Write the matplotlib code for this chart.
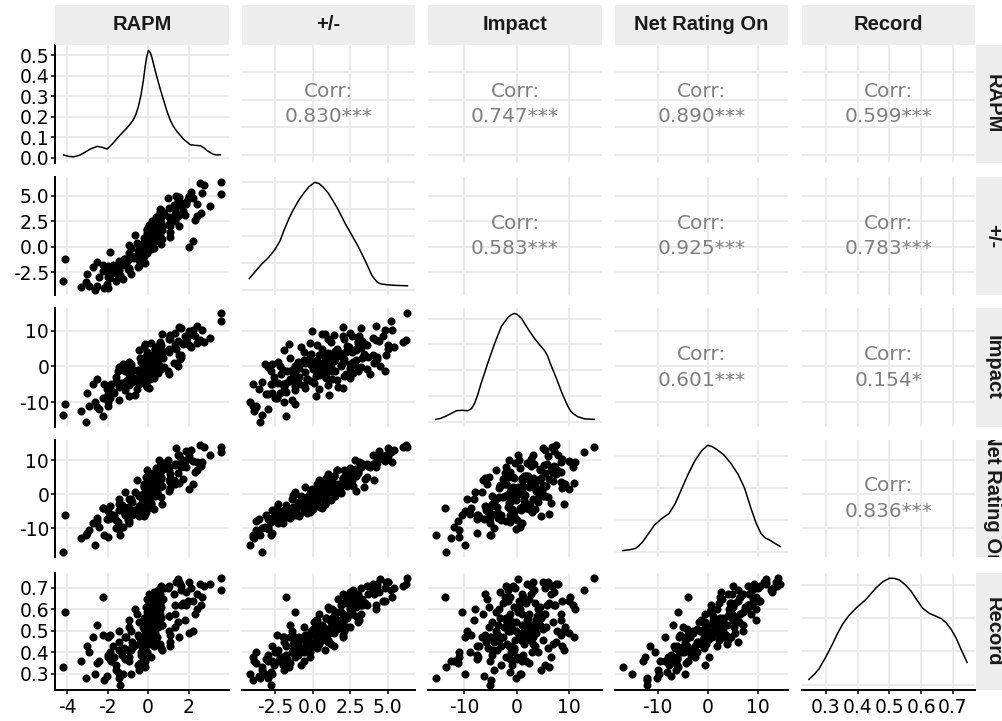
import matplotlib
matplotlib.use('Agg')
import matplotlib.pyplot as plt
from matplotlib.ticker import MultipleLocator, FormatStrFormatter

# variables (one point per player)
names = ['RAPM', '+/-', 'Impact', 'Net Rating On', 'Record']

rapm = [
    0.22, -0.80, 0.50, -1.11, 0.52, -0.96, 0.20, 1.70, -0.19, 0.02,
    -1.88, -0.10, 1.62, 0.12, 1.80, -1.45, 0.22, -1.48, 0.61, 0.62,
    -0.11, 1.04, -0.18, 0.71, -1.12, 0.57, -0.12, 2.67, -1.27, 0.04,
    2.03, -0.47, 0.44, -1.89, -0.18, 0.02, 1.34, 0.30, -0.83, -0.51,
    0.71, -0.94, 1.89, -0.20, -0.54, 0.16, -0.07, 0.30, -2.51, 0.58,
    0.18, 1.02, -0.79, -0.15, 0.78, 1.51, -0.95, -0.24, 1.64, 0.03,
    -0.19, 1.98, -0.12, -2.01, 0.39, -0.06, 0.48, -1.44, 0.38, -0.96,
    0.42, -0.19, 1.27, 1.07, -1.60, 0.13, 0.44, -0.44, -0.37, 1.89,
    -1.44, 0.02, 0.48, 2.43, -0.82, 0.37, -2.00, -0.52, 1.35, -0.27,
    0.36, -1.72, 0.65, 0.03, 0.05, -0.03, 0.32, -1.13, 0.64, -0.13,
    1.52, -0.63, 0.72, -0.45, 1.46, 0.17, 0.49, -0.38, -2.00, 0.36,
    0.21, -0.07, -0.86, 2.12, -0.09, -1.26, 0.59, -0.70, 0.60, -1.82,
    0.05, 2.20, -1.59, 0.28, -0.13, 0.16, -0.22, 1.58, -0.35, 1.08,
    0.07, 0.09, -1.70, 0.69, 0.35, 0.01, -0.47, -0.17, -0.23, 0.40,
    0.04, 0.35, -1.01, 0.24, 1.08, -0.02, -1.43, 0.64, -0.99, 0.34,
    -0.11, 1.34, -1.18, 1.46, 0.14, 0.26, -0.36, 1.05, -0.31, 0.40,
    -2.19, 0.26, 1.01, 0.02, 3.60, 3.58, 2.55, 2.75, 3.05, 2.20,
    2.00, -4.10, -4.20, -3.07, -2.20, -1.40, -2.60, 1.60, 1.00, -2.00,
    -3.00, -2.90, -2.70, -2.50, -2.40, -3.30, -2.20, 2.40, 2.30, 2.60,
    -1.90, 1.40,
]

plus_minus = [
    1.4, -0.9, 2.3, -1.5, 2.8, -2.3, 1.0, 3.5, 0.3, 0.9,
    -3.1, -0.2, 4.0, 1.9, 3.1, -1.4, 1.4, -2.8, 1.2, 3.6,
    1.0, 2.9, -0.5, 0.8, -1.2, 2.6, 0.7, 5.3, -1.8, 0.3,
    5.0, -1.3, 2.7, -2.5, -0.8, 1.2, 3.2, 2.5, -2.7, -0.4,
    1.6, -2.1, 4.2, -0.9, 0.4, 0.8, 1.3, -0.1, -3.8, 3.4,
    1.5, 2.1, -1.0, -0.6, 3.2, 2.0, -0.6, -1.2, 4.3, 2.1,
    -0.2, 4.7, 0.5, -3.6, 1.8, 1.6, 1.5, -3.0, 2.5, 0.2,
    0.9, 0.0, 4.1, 1.0, -2.6, 1.4, 1.9, -1.9, -0.4, 4.4,
    -2.3, 0.6, 3.0, 4.2, -1.1, 2.1, -1.9, -2.0, 3.6, 0.4,
    2.0, -1.8, 0.3, 0.9, 0.2, 1.7, 1.6, -1.7, 2.3, -0.2,
    4.9, 1.1, 3.3, -0.9, 3.0, 1.2, 2.7, -1.5, -3.0, 1.0,
    2.5, -0.6, -0.1, 5.4, 0.3, -3.2, 2.4, -1.1, 3.7, -2.7,
    0.6, 4.8, -3.4, 1.7, 0.0, -0.2, 0.9, 4.3, -1.4, 2.0,
    1.3, 1.1, -2.2, 1.9, 2.5, 0.4, 0.1, -1.6, 0.2, 2.9,
    2.0, 0.6, -1.3, 1.3, 1.4, 0.9, -1.9, 2.9, -2.2, 1.1,
    0.4, 2.5, -1.2, 4.5, 0.9, 2.2, -1.0, 2.2, -0.5, 2.0,
    -4.0, 1.5, 3.8, 0.8, 6.30, 5.20, 6.25, 6.00, 4.00, 0.60,
    -0.05, -1.20, -3.40, -3.50, -1.80, -2.80, -4.20, 3.20, 4.80, -4.00,
    -2.7, -3.8, -2.0, -1.5, -3.0, -3.9, -2.4, 3.0, 2.6, 3.3,
    -0.5, 5.0,
]

impact = [
    2.1, -3.0, 5.6, -4.2, 0.4, 1.1, 2.5, 6.2, -2.1, -1.0,
    -7.6, 3.0, 3.3, 0.2, 8.4, -9.5, 1.5, -1.2, 6.9, -0.6,
    -5.3, 4.8, 0.9, 9.0, -6.6, 4.1, -2.4, 10.2, -4.6, 1.9,
    6.0, -1.8, 1.3, -8.9, 5.5, -0.1, 5.2, -3.1, 0.8, -3.6,
    4.4, -2.0, 7.3, -0.5, -6.4, 2.6, -1.4, 3.6, -11.2, 3.5,
    -1.2, 7.7, -4.4, 1.8, -0.3, 11.0, -5.3, 0.1, 2.7, -2.6,
    1.5, 8.6, -1.7, -6.2, 3.7, -3.9, 4.3, -0.2, 0.6, -8.2,
    3.2, -0.8, 1.0, 7.6, -3.0, 1.8, 0.4, 4.6, -3.4, 7.1,
    -4.6, 0.7, -1.3, 11.2, -0.4, 2.0, -9.8, -0.9, 5.9, -2.3,
    2.3, -7.2, 6.0, -2.1, 1.4, -5.7, 5.0, -1.3, 4.6, 0.8,
    3.2, -7.9, 2.4, -4.8, 7.0, -0.6, -1.7, 2.4, -7.6, 3.8,
    -0.5, 4.0, -4.0, 5.5, -0.3, 0.6, 5.4, -1.0, 2.7, -5.0,
    1.0, 10.1, -4.3, 3.4, -0.2, 6.5, -3.2, 2.0, -1.1, 8.5,
    -3.4, 0.2, -7.3, 2.9, -1.6, 3.1, -4.7, 6.2, -2.6, 1.8,
    -6.1, 5.0, -3.8, 2.5, 8.7, -1.3, -5.8, 4.5, 0.0, 3.5,
    -1.0, 9.3, -5.5, 0.2, 1.6, -2.2, 1.2, 3.9, -1.5, 1.1,
    -4.8, 2.4, -2.0, 1.4, 14.8, 12.8, 7.5, 6.8, 8.0, 9.0,
    10.0, -10.5, -13.5, -15.4, -13.7, -5.0, -9.8, 10.8, -1.4, -11.0,
    -7.5, -11.0, -5.0, -3.6, -12.0, -12.5, -8.7, 6.5, 8.5, 7.2,
    -6.0, 5.0,
]

net_rating_on = [
    5.4, -6.2, 2.5, -5.7, 10.2, -8.6, 4.0, 4.6, 3.1, -2.1,
    -6.2, -5.1, 8.8, 0.4, 9.6, -1.5, 5.4, -8.1, 3.9, 5.0,
    5.0, 1.0, 2.2, -3.0, 0.8, 4.3, 3.0, 9.6, -3.1, -2.9,
    11.2, -0.3, 2.5, -5.7, -0.6, -1.7, 8.6, 2.6, -4.5, -5.5,
    7.0, -8.0, 8.1, -6.5, 4.3, -2.9, 5.2, -4.2, -7.9, 2.2,
    -0.6, 7.1, -2.2, -4.0, 9.3, 3.2, -5.0, 0.2, 10.4, 4.5,
    -1.7, 10.3, -3.7, -7.4, 1.1, 7.1, -0.2, -10.2, 7.8, -1.3,
    4.7, -4.2, 4.1, 6.0, -7.7, 5.3, 0.7, -6.4, -0.9, 12.8,
    -2.8, -4.0, 6.5, 9.6, -5.1, 5.0, -4.8, -6.2, 8.8, -0.6,
    4.5, -6.7, -0.8, 3.0, -0.5, 2.9, 2.8, -6.1, 4.9, 0.4,
    11.6, 0.6, 8.9, -3.6, 6.3, 2.2, 6.0, -4.4, -7.3, 1.8,
    4.7, -2.2, -1.3, 13.0, 0.0, -9.7, 6.4, -4.7, 8.2, -7.1,
    1.2, 9.8, -10.0, 2.1, -0.8, -2.6, 2.4, 9.1, -4.7, 3.7,
    1.9, 2.1, -6.2, 2.5, 6.1, -1.3, -0.5, -5.9, -0.8, 5.4,
    4.9, -0.4, -3.7, 3.9, 1.9, 0.8, -4.6, 7.4, -7.7, 2.1,
    1.6, 3.0, -5.2, 11.5, -0.2, 6.4, -3.4, 4.1, -2.5, 4.8,
    -12.0, 2.1, 8.1, -0.6, 14.0, 12.5, 14.4, 13.8, 11.5, 3.0,
    1.5, -6.0, -16.9, -12.0, -4.0, -12.0, -15.0, 8.0, 10.0, -12.5,
    -11.5, -10.6, -8.5, -7.0, -9.5, -12.9, -4.0, 7.0, 6.5, 8.4,
    -3.5, 13.5,
]

record = [
    .56, .43, .52, .47, .64, .36, .46, .63, .55, .51,
    .37, .40, .69, .59, .55, .50, .49, .31, .44, .71,
    .61, .57, .46, .41, .47, .60, .52, .66, .39, .49,
    .73, .44, .66, .40, .34, .54, .58, .68, .30, .48,
    .53, .38, .62, .42, .58, .50, .56, .43, .35, .63,
    .58, .50, .45, .36, .70, .47, .52, .38, .71, .63,
    .45, .64, .50, .29, .55, .59, .53, .28, .60, .55,
    .47, .51, .67, .45, .34, .52, .62, .32, .46, .68,
    .41, .47, .66, .60, .41, .55, .47, .34, .62, .52,
    .58, .43, .42, .56, .44, .65, .51, .37, .56, .48,
    .73, .60, .65, .47, .54, .54, .69, .35, .39, .49,
    .61, .40, .50, .70, .46, .30, .58, .43, .67, .36,
    .53, .64, .32, .52, .50, .38, .56, .72, .40, .48,
    .60, .49, .38, .53, .64, .44, .54, .33, .47, .63,
    .67, .46, .41, .53, .43, .50, .45, .61, .37, .51,
    .53, .52, .42, .74, .48, .66, .39, .57, .43, .58,
    .27, .51, .71, .50, .745, .69, .72, .71, .72, .50,
    .49, .59, .33, .28, .66, .25, .30, .62, .70, .38,
    .43, .40, .47, .53, .36, .36, .48, .67, .58, .62,
    .48, .73,
]

# density curves on the diagonal
rapm_dens_x = [-4.17, -3.90, -3.67, -3.40, -3.17, -2.85, -2.51, -2.25, -2.02, -1.75,
               -1.45, -1.25, -1.05, -0.90, -0.73, -0.60, -0.48, -0.35, -0.23, -0.15,
               -0.07, 0.02, 0.10, 0.18, 0.30, 0.43, 0.60, 0.76, 0.92, 1.09,
               1.25, 1.42, 1.75, 2.08, 2.33, 2.58, 2.75, 2.90, 3.16, 3.35, 3.57]
rapm_dens_y = [0.013, 0.006, 0.004, 0.011, 0.023, 0.042, 0.055, 0.050, 0.042, 0.068,
               0.103, 0.124, 0.144, 0.162, 0.184, 0.212, 0.249, 0.305, 0.379, 0.440,
               0.492, 0.524, 0.515, 0.492, 0.445, 0.395, 0.335, 0.282, 0.230, 0.184,
               0.152, 0.128, 0.090, 0.063, 0.060, 0.058, 0.048, 0.035, 0.019, 0.013, 0.014]

pm_dens_x = [-4.23, -3.8, -3.4, -2.95, -2.55, -2.2, -1.9, -1.6, -1.32, -0.95,
             -0.6, -0.25, 0.13, 0.4, 0.7, 1.03, 1.3, 1.6, 1.9, 2.15,
             2.6, 3.04, 3.5, 3.94, 4.15, 4.3, 4.45, 4.61, 5.0, 5.5, 6.32]
pm_dens_y = [0.021, 0.035, 0.048, 0.060, 0.074, 0.090, 0.112, 0.132, 0.148, 0.166,
             0.180, 0.192, 0.200, 0.198, 0.191, 0.180, 0.168, 0.154, 0.138, 0.124,
             0.102, 0.080, 0.054, 0.027, 0.019, 0.014, 0.0116, 0.0104, 0.009, 0.008, 0.0072]

impact_dens_x = [-15.4, -14.5, -13.5, -12.5, -11.5, -10.4, -9.3, -8.6, -8.0, -7.4,
                 -6.8, -6.1, -5.5, -4.2, -2.9, -1.6, -0.9, -0.4, 0.1, 0.5,
                 1.0, 1.5, 2.4, 3.4, 4.4, 5.3, 5.9, 6.5, 7.6, 8.7,
                 9.8, 10.3, 10.8, 11.7, 13.0, 14.8]
impact_dens_y = [0.0017, 0.0025, 0.0042, 0.0063, 0.0084, 0.0088, 0.0084, 0.0101, 0.0143, 0.0210,
                 0.0294, 0.0378, 0.0454, 0.0605, 0.0739, 0.0811, 0.0832, 0.0840, 0.0832, 0.0819,
                 0.0798, 0.0764, 0.0706, 0.0647, 0.0596, 0.0554, 0.0512, 0.0445, 0.0336, 0.0218,
                 0.0118, 0.0084, 0.0063, 0.0038, 0.0021, 0.0017]

net_dens_x = [-16.9, -15.6, -14.4, -13.7, -13.0, -11.8, -10.6, -9.2, -7.7, -6.5,
              -5.3, -3.9, -2.5, -1.2, 0.0, 0.8, 1.5, 2.4, 3.2, 4.6,
              6.0, 7.3, 8.5, 9.6, 10.6, 11.4, 12.3, 13.3, 14.4]
net_dens_y = [0.0007, 0.0012, 0.0020, 0.0037, 0.0060, 0.0113, 0.0167, 0.0206, 0.0240, 0.0300,
              0.0386, 0.0486, 0.0573, 0.0633, 0.0666, 0.0659, 0.0646, 0.0626, 0.0606, 0.0553,
              0.0486, 0.0400, 0.0280, 0.0180, 0.0113, 0.0087, 0.0073, 0.0053, 0.0033]

record_dens_x = [0.247, 0.265, 0.279, 0.300, 0.321, 0.337, 0.353, 0.373, 0.395, 0.426,
                 0.458, 0.480, 0.500, 0.515, 0.532, 0.550, 0.568, 0.586, 0.605, 0.627,
                 0.647, 0.665, 0.679, 0.695, 0.710, 0.726, 0.745]
record_dens_y = [0.16, 0.32, 0.48, 0.83, 1.22, 1.54, 1.82, 2.08, 2.30, 2.56,
                 2.91, 3.10, 3.20, 3.20, 3.15, 3.01, 2.82, 2.56, 2.30, 2.14,
                 2.06, 1.98, 1.86, 1.66, 1.41, 1.06, 0.67]

corr_labels = {
    (0, 1): '0.830***', (0, 2): '0.747***', (0, 3): '0.890***', (0, 4): '0.599***',
    (1, 2): '0.583***', (1, 3): '0.925***', (1, 4): '0.783***',
    (2, 3): '0.601***', (2, 4): '0.154*',
    (3, 4): '0.836***',
}

data = [rapm, plus_minus, impact, net_rating_on, record]
dens = [(rapm_dens_x, rapm_dens_y), (pm_dens_x, pm_dens_y), (impact_dens_x, impact_dens_y),
        (net_dens_x, net_dens_y), (record_dens_x, record_dens_y)]

tick_step = [2, 2.5, 10, 10, 0.1]
tick_fmt = ['%d', '%.1f', '%d', '%d', '%.1f']
dens_step = [0.1, 0.05, 0.02, 0.02, 1.0]

W, H = 1003, 721
fig = plt.figure(figsize=(W / 100, H / 100), dpi=100)
fig.patch.set_facecolor('white')

cols = [(55, 229), (242, 415), (428, 602), (615, 788), (802, 975)]
rows = [(45, 163), (177, 295), (308, 427), (440, 557), (573, 690)]

GRID = '#EBEBEB'
STRIP = '#EDEDED'
TICKFONT = 'DejaVu Sans'
STRIPFONT = 'Liberation Sans'


def pax(x0, y0, x1, y1):
    return fig.add_axes([x0 / W, 1 - y1 / H, (x1 - x0) / W, (y1 - y0) / H])


def lims(v):
    lo, hi = min(v), max(v)
    pad = 0.05 * (hi - lo)
    return lo - pad, hi + pad


for i in range(5):
    for j in range(5):
        ax = pax(cols[j][0], rows[i][0], cols[j][1], rows[i][1])
        ax.set_xlim(lims(data[j]))
        ax.xaxis.set_major_locator(MultipleLocator(tick_step[j]))
        ax.xaxis.set_major_formatter(FormatStrFormatter(tick_fmt[j]))
        if i == j:
            dx, dy = dens[i]
            top = max(dy)
            ax.plot(dx, dy, color='black', lw=1.1, solid_joinstyle='round')
            ax.set_ylim(-0.05 * top, top * 1.05)
            ax.yaxis.set_major_locator(MultipleLocator(dens_step[i]))
            ax.yaxis.set_major_formatter(FormatStrFormatter('%.1f'))
        else:
            ax.set_ylim(lims(data[i]))
            ax.yaxis.set_major_locator(MultipleLocator(tick_step[i]))
            ax.yaxis.set_major_formatter(FormatStrFormatter(tick_fmt[i]))
            if i > j:
                ax.scatter(data[j], data[i], s=34, c='black', linewidths=0, zorder=3)
            else:
                ax.text(0.5, 0.5, 'Corr:\n' + corr_labels[(i, j)], transform=ax.transAxes,
                        ha='center', va='center', multialignment='center',
                        color='#808080', fontsize=14.5, family='DejaVu Sans', linespacing=1.45)
        ax.grid(True, color=GRID, lw=1.4)
        ax.set_axisbelow(True)
        for sp in ax.spines.values():
            sp.set_visible(False)
        if j == 0:
            ax.spines['left'].set_visible(True)
            ax.spines['left'].set_linewidth(1.4)
        if i == 4:
            ax.spines['bottom'].set_visible(True)
            ax.spines['bottom'].set_linewidth(1.4)
        ax.tick_params(axis='y', left=(j == 0), labelleft=(j == 0),
                       length=3, width=1.1, pad=1.2, labelsize=13.5, colors='black')
        ax.tick_params(axis='x', bottom=(i == 4), labelbottom=(i == 4),
                       length=3, width=1.1, pad=2.5, labelsize=13.5, colors='black')
        for lab in ax.get_xticklabels() + ax.get_yticklabels():
            lab.set_family(TICKFONT)

# strips
for j in range(5):
    sa = pax(cols[j][0], 5, cols[j][1], 45)
    sa.set_facecolor(STRIP)
    sa.set_xticks([])
    sa.set_yticks([])
    for sp in sa.spines.values():
        sp.set_visible(False)
    sa.text(0.5, 0.5, names[j], transform=sa.transAxes, ha='center', va='center',
            fontsize=14.5, fontweight='bold', family=STRIPFONT, color='#1A1A1A')

for i in range(5):
    sa = pax(976, rows[i][0], 1010, rows[i][1])
    sa.set_facecolor(STRIP)
    sa.set_xticks([])
    sa.set_yticks([])
    for sp in sa.spines.values():
        sp.set_visible(False)
    t = sa.text(0.5, 0.5, names[i], transform=sa.transAxes, ha='center', va='center',
                rotation=-90, fontsize=14.5, fontweight='bold', family=STRIPFONT, color='#1A1A1A')
    t.set_clip_on(True)

fig.savefig('out.png', dpi=100, facecolor='white')
